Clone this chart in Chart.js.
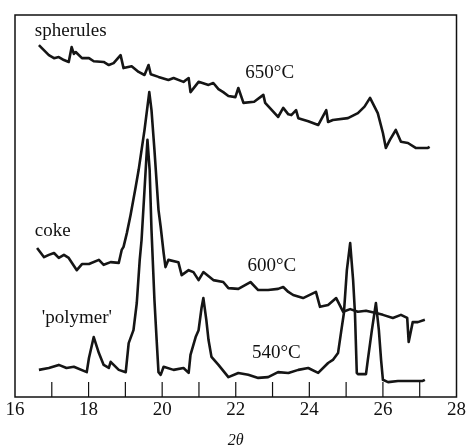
<!DOCTYPE html>
<html>
<head>
<meta charset="utf-8">
<script src="https://cdn.jsdelivr.net/npm/chart.js@4/dist/chart.umd.min.js"></script>
<style>
  html, body { margin: 0; padding: 0; background: #fff; }
  #wrap { width: 468px; height: 446px; position: relative; }
</style>
</head>
<body>
<div id="wrap"><canvas id="xrd"></canvas></div>
<script>
// 2-theta positions and intensities (arbitrary units)
const spherulesX = [16.65, 16.92, 17.06, 17.19, 17.33, 17.46, 17.54, 17.60, 17.65, 17.82, 18.01, 18.14, 18.41, 18.55, 18.68, 18.87, 18.95, 19.17, 19.36, 19.52, 19.63, 19.69, 19.90, 20.17, 20.31, 20.58, 20.72, 20.77, 20.99, 21.26, 21.39, 21.53, 21.66, 21.80, 21.99, 22.07, 22.21, 22.50, 22.75, 22.80, 23.15, 23.29, 23.43, 23.51, 23.64, 23.70, 23.97, 24.24, 24.46, 24.51, 24.64, 25.05, 25.32, 25.50, 25.65, 25.86, 26.00, 26.08, 26.19, 26.35, 26.49, 26.68, 26.89, 27.22, 27.27];
const spherulesY = [92.1, 89.5, 88.7, 89.0, 88.2, 87.7, 91.6, 89.8, 90.3, 88.7, 88.7, 87.9, 87.7, 86.9, 87.4, 89.5, 86.1, 86.6, 85.1, 84.3, 86.9, 84.5, 83.8, 83.0, 83.5, 82.5, 83.5, 79.8, 82.5, 81.7, 82.2, 80.6, 79.8, 78.8, 78.5, 80.9, 77.0, 77.3, 79.1, 77.0, 73.3, 75.7, 74.0, 73.8, 75.1, 73.0, 72.2, 71.2, 75.1, 72.0, 72.5, 73.0, 74.3, 76.0, 78.3, 74.3, 69.1, 65.2, 67.3, 69.9, 66.8, 66.5, 65.2, 65.2, 65.5];

const cokeX = [16.60, 16.79, 16.92, 17.06, 17.19, 17.33, 17.46, 17.68, 17.82, 18.01, 18.28, 18.41, 18.60, 18.82, 18.90, 18.95, 19.04, 19.14, 19.28, 19.36, 19.52, 19.65, 19.71, 19.79, 19.90, 19.96, 20.04, 20.09, 20.17, 20.44, 20.53, 20.72, 20.85, 20.99, 21.12, 21.39, 21.66, 21.80, 22.07, 22.40, 22.61, 22.88, 23.15, 23.29, 23.43, 23.56, 23.83, 24.18, 24.29, 24.51, 24.73, 24.92, 25.11, 25.32, 25.54, 25.81, 26.00, 26.27, 26.49, 26.66, 26.70, 26.81, 26.95, 27.14];
const cokeY = [39.0, 36.6, 37.2, 37.7, 36.4, 37.2, 36.4, 33.2, 34.8, 34.8, 35.9, 34.6, 35.3, 35.1, 38.5, 39.3, 42.9, 47.6, 55.0, 59.4, 69.9, 79.8, 75.1, 64.7, 49.0, 44.5, 37.7, 34.0, 35.9, 35.3, 31.9, 33.2, 32.7, 30.6, 32.7, 30.6, 30.1, 28.5, 28.3, 30.1, 28.0, 28.0, 28.3, 28.8, 27.5, 26.7, 25.9, 27.5, 23.6, 24.1, 25.9, 22.3, 23.0, 22.3, 22.6, 22.0, 21.5, 20.7, 21.5, 20.7, 14.4, 19.6, 19.6, 20.2];

const polymerX = [16.65, 16.92, 17.19, 17.40, 17.60, 17.95, 18.01, 18.14, 18.28, 18.41, 18.55, 18.60, 18.82, 19.01, 19.09, 19.22, 19.31, 19.39, 19.44, 19.52, 19.60, 19.66, 19.71, 19.79, 19.85, 19.90, 19.96, 20.04, 20.31, 20.58, 20.72, 20.77, 20.91, 20.99, 21.07, 21.12, 21.20, 21.26, 21.34, 21.53, 21.80, 22.07, 22.34, 22.61, 22.88, 23.15, 23.43, 23.70, 23.97, 24.24, 24.51, 24.64, 24.78, 24.86, 24.94, 25.02, 25.11, 25.19, 25.24, 25.29, 25.32, 25.54, 25.59, 25.70, 25.81, 25.89, 25.95, 26.00, 26.14, 26.41, 26.81, 27.08, 27.14];
const polymerY = [7.1, 7.6, 8.4, 7.6, 7.9, 6.5, 10.2, 15.7, 11.5, 8.4, 7.6, 9.2, 7.1, 6.5, 14.1, 17.5, 24.6, 35.9, 41.1, 54.2, 67.3, 59.4, 43.7, 25.4, 14.9, 6.5, 5.8, 7.9, 7.1, 7.6, 6.3, 11.0, 15.7, 17.5, 23.3, 25.9, 20.2, 14.9, 10.5, 8.4, 5.2, 6.3, 5.8, 5.0, 5.2, 6.5, 6.3, 7.1, 7.6, 6.3, 8.9, 9.7, 11.5, 16.8, 22.0, 33.2, 40.3, 30.6, 22.0, 6.3, 6.0, 6.0, 9.7, 17.5, 24.6, 17.5, 9.7, 4.5, 3.9, 4.2, 4.2, 4.2, 4.5];

// trace labels placed in data units (left edge, vertical centre)
const traceLabels = [
  { text: 'spherules', x: 16.54, y: 95.8 },
  { text: '650°C', x: 22.26, y: 84.8 },
  { text: 'coke', x: 16.54, y: 43.5 },
  { text: '600°C', x: 22.32, y: 34.4 },
  { text: "'polymer'", x: 16.73, y: 20.7 },
  { text: '540°C', x: 22.44, y: 11.6 }
];

const toPoints = (xs, ys) => xs.map((x, i) => ({ x: x, y: ys[i] }));
const serif = '"Liberation Serif", "DejaVu Serif", serif';

// frame, inward ticks and text labels
const decorations = {
  id: 'decorations',
  afterDatasetsDraw(chart) {
    const { ctx, chartArea: a, scales } = chart;
    ctx.save();
    ctx.strokeStyle = '#111';
    ctx.lineWidth = 1.5;
    ctx.strokeRect(a.left, a.top, a.right - a.left, a.bottom - a.top);

    ctx.lineWidth = 1.2;
    scales.x.ticks.forEach(t => {
      if (t.value <= scales.x.min || t.value >= scales.x.max) return;
      const px = scales.x.getPixelForValue(t.value);
      ctx.beginPath();
      ctx.moveTo(px, a.bottom);
      ctx.lineTo(px, a.bottom - 15);
      ctx.stroke();
    });

    ctx.fillStyle = '#111';
    ctx.font = '19px ' + serif;
    ctx.textBaseline = 'middle';
    ctx.textAlign = 'left';
    traceLabels.forEach(l => {
      ctx.fillText(l.text, scales.x.getPixelForValue(l.x), scales.y.getPixelForValue(l.y));
    });
    ctx.restore();
  }
};

const line = (data) => ({
  data: data,
  borderColor: '#151515',
  borderWidth: 2.6,
  borderJoinStyle: 'round',
  pointRadius: 0,
  tension: 0,
  fill: false
});

new Chart(document.getElementById('xrd'), {
  type: 'line',
  data: {
    datasets: [
      line(toPoints(spherulesX, spherulesY)),
      line(toPoints(cokeX, cokeY)),
      line(toPoints(polymerX, polymerY))
    ]
  },
  options: {
    responsive: true,
    maintainAspectRatio: false,
    animation: false,
    layout: { padding: { left: 15, top: 15, right: 9, bottom: 0 } },
    plugins: { legend: { display: false }, tooltip: { enabled: false } },
    scales: {
      x: {
        type: 'linear',
        min: 16,
        max: 28,
        grid: { display: false, drawTicks: false },
        border: { display: false },
        ticks: {
          stepSize: 1,
          autoSkip: false,
          maxRotation: 0,
          padding: 2,
          color: '#111',
          font: { family: serif, size: 19 },
          callback: v => (v % 2 === 0 ? String(v) : '')
        },
        title: {
          display: true,
          text: '2θ',
          color: '#111',
          font: { family: serif, size: 16, style: 'italic' },
          padding: { top: 0, bottom: -4 }
        },
        afterFit: s => { s.height = 49; }
      },
      y: {
        display: false,
        min: 0,
        max: 100
      }
    }
  },
  plugins: [decorations]
});
</script>
</body>
</html>
